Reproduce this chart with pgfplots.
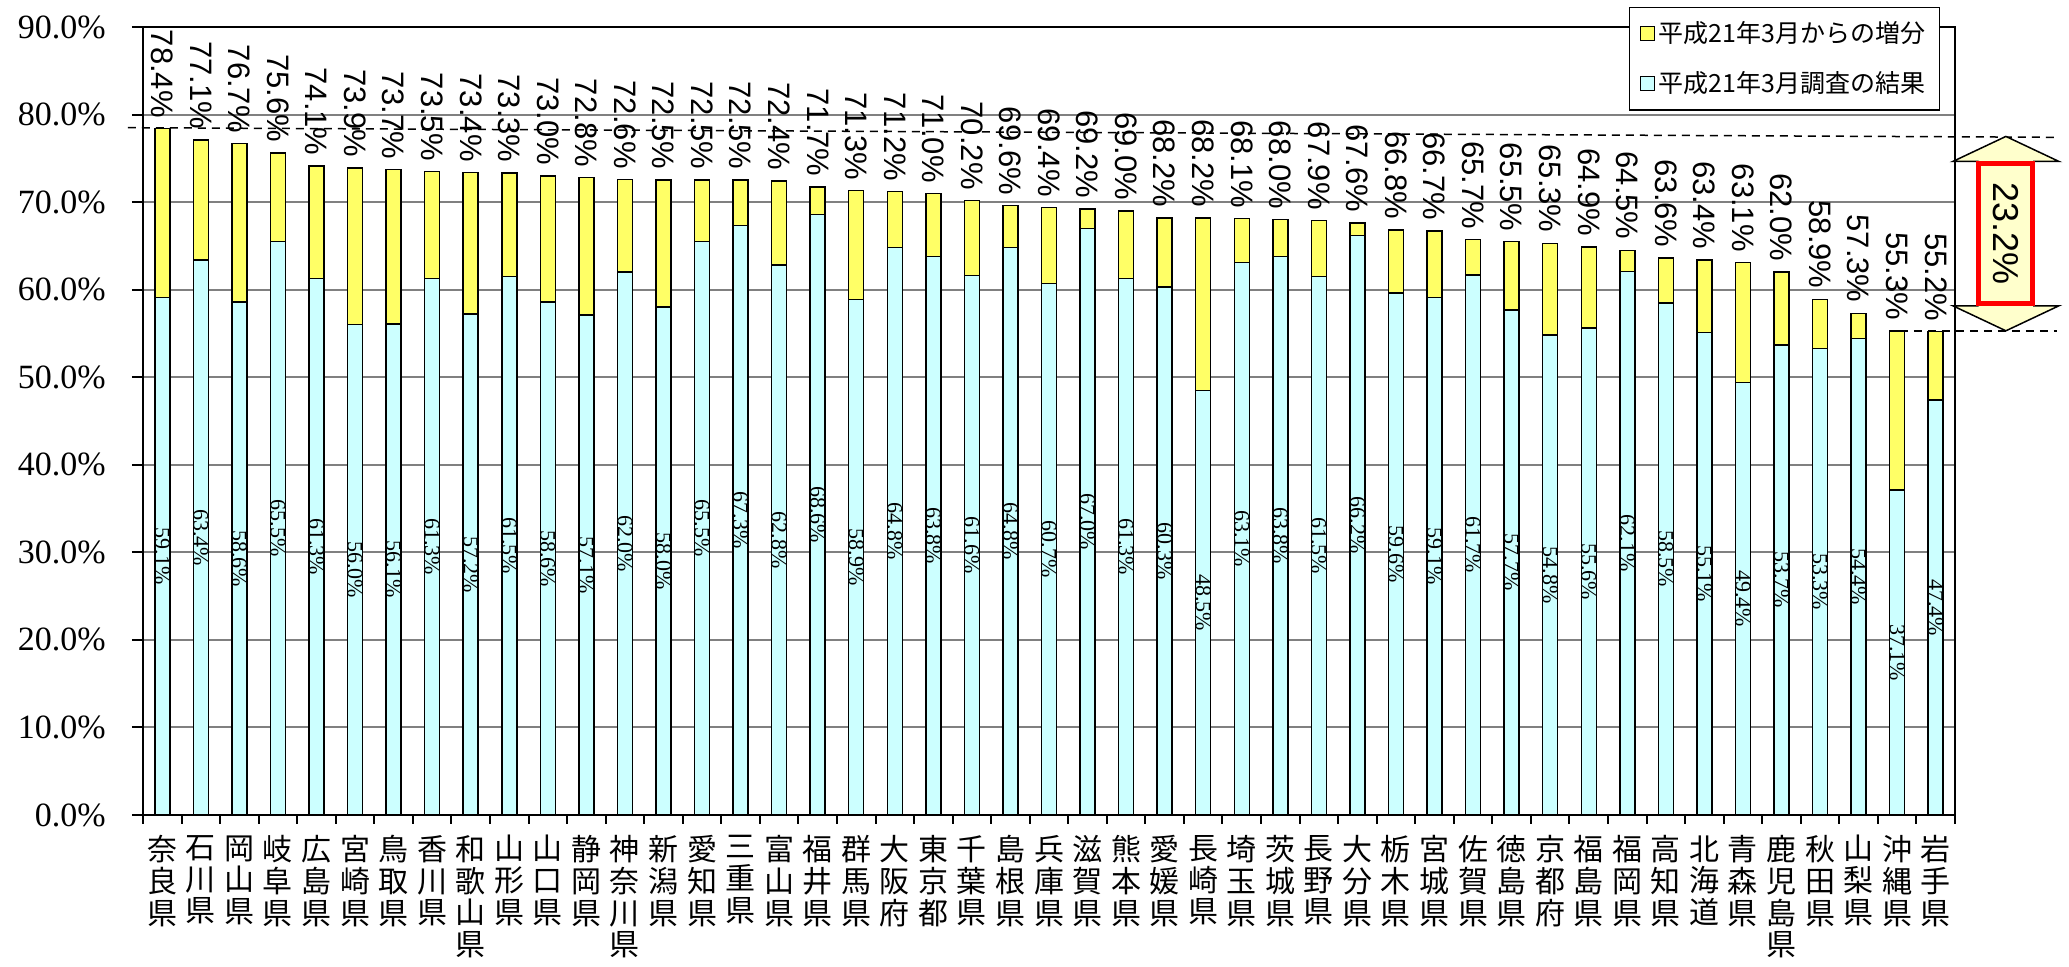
\documentclass[border=0pt]{standalone}
\usepackage{fontspec}
\setmainfont{Liberation Serif}
\newfontfamily\arialfont{Liberation Sans}
\newfontfamily\cjk{Noto Sans CJK JP}
\usepackage{pgfplots}
\usepackage{pgfplotstable}
\pgfplotsset{compat=1.18}
\usetikzlibrary{calc}

\definecolor{basecyan}{HTML}{CCFFFF}
\definecolor{incyellow}{HTML}{FFFF66}
\definecolor{arrowfill}{HTML}{FFFFCC}
\definecolor{gridgray}{HTML}{808080}

% base = result of the March 2009 survey, inc = increase since then, total = base + inc
\pgfplotstableread{
x base inc total
0 59.1 19.3 78.4
1 63.4 13.7 77.1
2 58.6 18.1 76.7
3 65.5 10.1 75.6
4 61.3 12.8 74.1
5 56.0 17.9 73.9
6 56.1 17.6 73.7
7 61.3 12.2 73.5
8 57.2 16.2 73.4
9 61.5 11.8 73.3
10 58.6 14.4 73.0
11 57.1 15.7 72.8
12 62.0 10.6 72.6
13 58.0 14.5 72.5
14 65.5 7.0 72.5
15 67.3 5.2 72.5
16 62.8 9.6 72.4
17 68.6 3.1 71.7
18 58.9 12.4 71.3
19 64.8 6.4 71.2
20 63.8 7.2 71.0
21 61.6 8.6 70.2
22 64.8 4.8 69.6
23 60.7 8.7 69.4
24 67.0 2.2 69.2
25 61.3 7.7 69.0
26 60.3 7.9 68.2
27 48.5 19.7 68.2
28 63.1 5.0 68.1
29 63.8 4.2 68.0
30 61.5 6.4 67.9
31 66.2 1.4 67.6
32 59.6 7.2 66.8
33 59.1 7.6 66.7
34 61.7 4.0 65.7
35 57.7 7.8 65.5
36 54.8 10.5 65.3
37 55.6 9.3 64.9
38 62.1 2.4 64.5
39 58.5 5.1 63.6
40 55.1 8.3 63.4
41 49.4 13.7 63.1
42 53.7 8.3 62.0
43 53.3 5.6 58.9
44 54.4 2.9 57.3
45 37.1 18.2 55.3
46 47.4 7.8 55.2
}\rates

\begin{document}
\begin{tikzpicture}
\begin{axis}[
  at={(0,0)}, anchor=south west,
  scale only axis, width=906pt, height=394pt,
  ybar stacked, bar width=0.389,
  xmin=-0.5, xmax=46.5, ymin=0, ymax=90,
  enlargelimits=false, clip=false,
  axis line style={black, line width=1pt},
  tick align=outside, xtick pos=bottom, ytick pos=left,
  ytick={0,10,...,90},
  yticklabel={\pgfmathprintnumber[fixed,fixed zerofill,precision=1]{\tick}\%},
  /pgf/number format/assume math mode=true,
  yticklabel style={font=\fontsize{17}{17}\selectfont, anchor=east, inner sep=0pt, xshift=-13pt},
  major tick length=5.5pt, minor tick length=4.5pt,
  major tick style={black, line width=1pt},
  ymajorgrids, major grid style={gridgray, line width=1pt},
  xtick={0,...,46},
  minor xtick={-0.5,0.5,...,46.5},
  major x tick style={draw=none},
  minor x tick style={black, line width=1pt},
  xticklabels={{奈\\良\\県},{石\\川\\県},{岡\\山\\県},{岐\\阜\\県},{広\\島\\県},{宮\\崎\\県},{鳥\\取\\県},{香\\川\\県},{和\\歌\\山\\県},{山\\形\\県},{山\\口\\県},{静\\岡\\県},{神\\奈\\川\\県},{新\\潟\\県},{愛\\知\\県},{三\\重\\県},{富\\山\\県},{福\\井\\県},{群\\馬\\県},{大\\阪\\府},{東\\京\\都},{千\\葉\\県},{島\\根\\県},{兵\\庫\\県},{滋\\賀\\県},{熊\\本\\県},{愛\\媛\\県},{長\\崎\\県},{埼\\玉\\県},{茨\\城\\県},{長\\野\\県},{大\\分\\県},{栃\\木\\県},{宮\\城\\県},{佐\\賀\\県},{徳\\島\\県},{京\\都\\府},{福\\島\\県},{福\\岡\\県},{高\\知\\県},{北\\海\\道},{青\\森\\県},{鹿\\児\\島\\県},{秋\\田\\県},{山\\梨\\県},{沖\\縄\\県},{岩\\手\\県}},
  xticklabel style={font=\cjk\fontsize{15}{15.9}\selectfont, align=center, anchor=north, inner sep=0pt, yshift=-4.5pt},
  reverse legend,
  legend cell align=left,
  legend style={at={(1,1)}, anchor=north east, xshift=-7.5pt, yshift=10pt,
    draw=black, line width=0.75pt, fill=white,
    font=\cjk\fontsize{12.5}{14}\selectfont,
    row sep=9pt, inner xsep=5pt, inner ysep=5pt},
  legend image code/.code={\draw[#1, line width=0.5pt] (0pt,-3.5pt) rectangle (7pt,3.5pt);},
]
% labels of stacked segments sit at the middle of each segment
\addplot[fill=basecyan, draw=black, line width=0.75pt,
  point meta=explicit symbolic,
  nodes near coords={\rotatebox{-90}{\pgfplotspointmeta\%}},
  every node near coord/.append style={anchor=center,
    font=\fontsize{11}{11}\selectfont, inner sep=0pt, black}]
  table[x=x, y=base, meta=base] {\rates};
% total labels: lift them from the segment middle to the top of the bar
\addplot[fill=incyellow, draw=black, line width=0.75pt,
  point meta=explicit symbolic,
  visualization depends on={rawy \as \rawy},
  nodes near coords={\rotatebox{-90}{\pgfplotspointmeta\%}},
  every node near coord/.append style={anchor=south, yshift=2.18889pt*\rawy, inner sep=5pt,
    font=\arialfont\fontsize{15.5}{16}\selectfont, black}]
  table[x=x, y=inc, meta=total] {\rates};
\legend{平成21年3月調査の結果, 平成21年3月からの増分}

\draw[black, line width=0.75pt, dash pattern=on 4pt off 3pt] (axis cs:-0.89,78.5) -- (axis cs:49.15,77.4);
\draw[black, line width=0.75pt, dash pattern=on 4pt off 3pt] (axis cs:45.07,55.3) -- (axis cs:49.15,55.3);
\coordinate (Atop) at (axis cs:47.82,77.5);
\coordinate (Abot) at (axis cs:47.82,55.3);
\end{axis}

% double arrow showing the gap between the highest and the lowest prefecture
\draw[fill=arrowfill, line width=0.75pt]
  (Atop) -- ++(26.5pt,-12.5pt) -- ++(-12.5pt,0pt) -- ($(Abot)+(14pt,12.5pt)$) -- ++(12.5pt,0pt)
  -- (Abot) -- ++(-26.5pt,12.5pt) -- ++(12.5pt,0pt) -- ($(Atop)+(-14pt,-12.5pt)$) -- ++(-12.5pt,0pt) -- cycle;
\node[rotate=-90, draw=red, line width=2.5pt, fill=arrowfill, minimum width=70pt, minimum height=27pt,
  inner sep=0pt, font=\arialfont\fontsize{18}{18}\selectfont] at ($(Atop)!0.5!(Abot)$) {23.2\%};

\pgfresetboundingbox
\path[use as bounding box] (-71.5pt,-76pt) rectangle (963pt,407.5pt);
\end{tikzpicture}
\end{document}
